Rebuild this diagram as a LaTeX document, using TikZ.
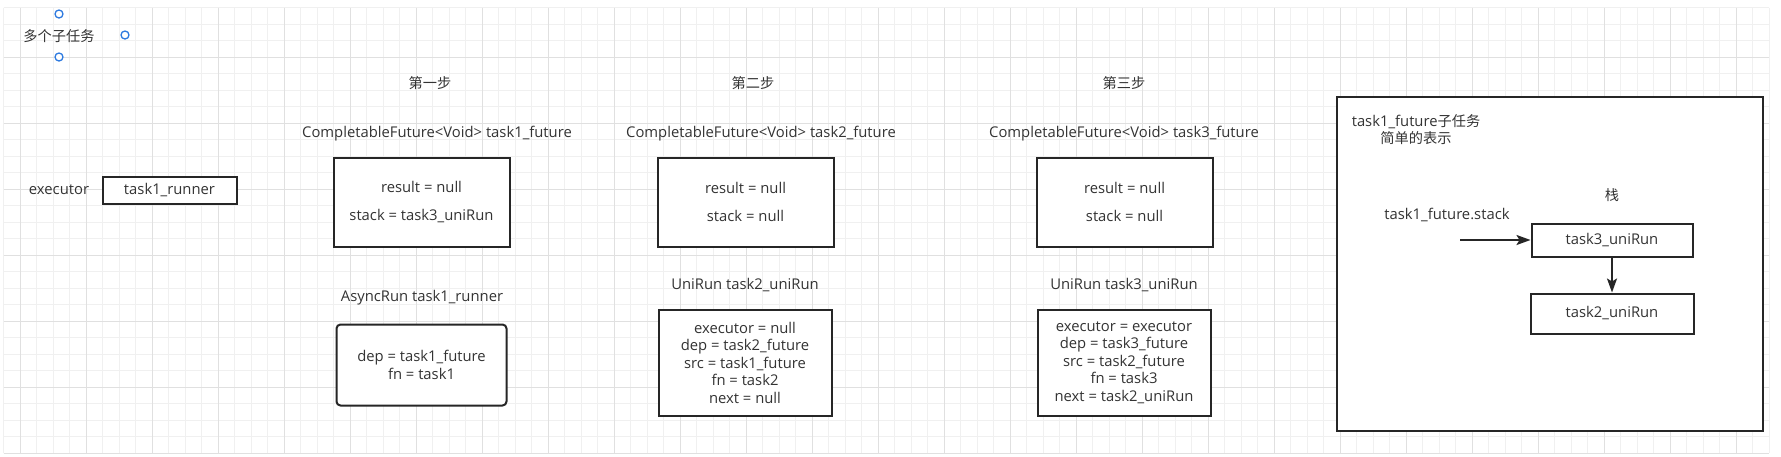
\documentclass[tikz,border=0pt]{standalone}
\usepackage{fontspec}
\setmainfont{Open Sans}
\newfontfamily\cjk{Noto Sans CJK SC}[Scale=0.96]
\usetikzlibrary{arrows.meta}

\begin{document}
\begin{tikzpicture}[x=1pt, y=-1pt, >={Stealth[length=14pt, width=10pt, inset=3pt]},
  every node/.style={font=\fontsize{14.8}{17.5}\selectfont, text=txtcolor, inner sep=0pt},
  objbox/.style={draw=linecolor, line width=2pt, fill=white, align=center},
  handle/.style={circle, draw=handlecolor, line width=1.3pt, fill=white, minimum size=8pt},
  conn/.style={->, draw=linecolor, line width=2pt}]

  % Colors
  \definecolor{txtcolor}{HTML}{333333}
  \definecolor{linecolor}{HTML}{262626}
  \definecolor{handlecolor}{HTML}{2F7BE0}
  \definecolor{minorgrid}{HTML}{F0F0F0}
  \definecolor{majorgrid}{HTML}{E0E0E0}

  \def\cell{16.5} % minor grid step
  \def\fw{176} % future box width
  \def\fh{89}  % future box height
  \def\fgap{10pt} % gap between the two future fields

  \useasboundingbox (0,0) rectangle (1781,456);
  \fill[white] (0,0) rectangle (1781,456);

  % Background grid
  \foreach \i in {0,...,107} {
    \draw[minorgrid, line width=1pt] ({3.5+\i*\cell}, 7.5) -- ({3.5+\i*\cell}, 453);
  }
  \foreach \j in {0,...,27} {
    \draw[minorgrid, line width=1pt] (3.5, {7.5+\j*\cell}) -- (1769, {7.5+\j*\cell});
  }
  \foreach \k in {0,...,26} {
    \draw[majorgrid, line width=1pt] ({20+\k*4*\cell}, 7.5) -- ({20+\k*4*\cell}, 453);
  }
  \foreach \k in {0,...,6} {
    \draw[majorgrid, line width=1pt] (3.5, {57+\k*4*\cell}) -- (1769, {57+\k*4*\cell});
  }

  % Title with its selection handles
  \node (title) at (59,36) {\cjk 多个子任务};
  \node[handle] (htop) at (59,14) {};
  \node[handle] (hright) at (125,35) {};
  \node[handle] (hbottom) at (59,57) {};

  % Executor
  \node (exec) at (59,190) {executor};
  \node[objbox, minimum width=134, minimum height=27] (runner) at (169.5,190) {task1\_runner};

  % Step headers and future labels
  \foreach \n/\x/\t in {1/430/第一步, 2/753/第二步, 3/1124/第三步} {
    \node (step\n) at (\x,83) {\cjk \t};
  }
  \foreach \n/\x in {1/437, 2/761, 3/1124} {
    \node (cf\n) at (\x,134) {CompletableFuture<Void> task\n\_future};
  }

  % PART 1: task1_future and its runner
  \node[objbox, minimum width=\fw, minimum height=\fh] (fut1) at (421.5,202)
    {result = null\\[\fgap]stack = task3\_uniRun};
  \node (run1lbl) at (422,298) {AsyncRun task1\_runner};
  \node[objbox, rounded corners=4pt, minimum width=170, minimum height=81] (run1) at (421.5,365)
    {dep = task1\_future\\fn = task1};

  % PART 2: task2_future and task2_uniRun
  \node[objbox, minimum width=\fw, minimum height=\fh] (fut2) at (745.5,202)
    {result = null\\[\fgap]stack = null};
  \node (uni2lbl) at (745,285) {UniRun task2\_uniRun};
  \node[objbox, minimum width=173, minimum height=106] (uni2) at (745,362.5)
    {executor = null\\dep = task2\_future\\src = task1\_future\\fn = task2\\next = null};

  % PART 3: task3_future and task3_uniRun
  \node[objbox, minimum width=\fw, minimum height=\fh] (fut3) at (1124.5,202)
    {result = null\\[\fgap]stack = null};
  \node (uni3lbl) at (1124,285) {UniRun task3\_uniRun};
  \node[objbox, minimum width=173, minimum height=106] (uni3) at (1124,362.5)
    {executor = executor\\dep = task3\_future\\src = task2\_future\\fn = task3\\next = task2\_uniRun};

  % PART 4: stack of task1_future
  \node[objbox, minimum width=426, minimum height=334] (frame) at (1549.5,263.5) {};
  \node[align=center] (frametitle) at (1416,129.5)
    {task1\_future{\cjk 子任务}\\{\cjk 简单的表示}};
  \node (stacklbl) at (1612,195) {\cjk 栈};
  \node (stackptr) at (1447,215) {task1\_future.stack};
  \node[objbox, minimum width=161, minimum height=33] (t3) at (1612,240) {task3\_uniRun};
  \node[objbox, minimum width=163, minimum height=40] (t2) at (1612,313.5) {task2\_uniRun};

  % Arrows
  \coordinate (ptrstart) at (1460,240);
  \draw[conn] (ptrstart) -- (t3);
  \draw[conn] (t3) -- (t2);

\end{tikzpicture}
\end{document}
